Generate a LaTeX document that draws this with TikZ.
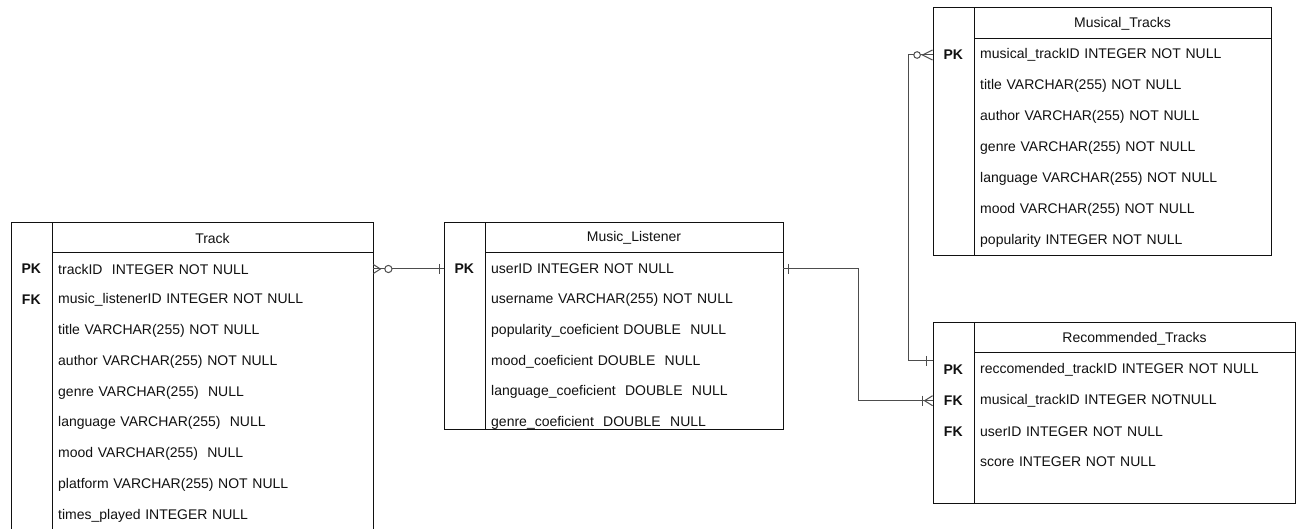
\documentclass[tikz,border=0pt]{standalone}
\usepackage{fontspec}
\setmainfont{Liberation Sans}
\usetikzlibrary{positioning, calc}

\definecolor{inkc}{HTML}{111111}
\definecolor{relc}{HTML}{4D4D4D}

\tikzset{
  tbl/.style={draw=inkc, line width=1pt},
  rel/.style={draw=relc, line width=1pt},
  title/.style={font=\fontsize{14}{16}\selectfont, text=inkc, inner sep=0pt},
  keycell/.style={font=\fontsize{14}{16}\selectfont\bfseries, text=inkc, anchor=east,
    minimum width=41pt, minimum height=18pt, inner sep=0pt},
  fieldcell/.style={font=\fontsize{14}{16}\selectfont, text=inkc, anchor=west,
    inner xsep=6pt, inner ysep=0pt, minimum height=18pt, text width=#1, align=left}
}

\begin{document}
\begin{tikzpicture}[x=1pt, y=-1pt]
  \path[use as bounding box, fill=white] (0,0) rectangle (1302,529);

  % Track
  \draw[tbl] (11,223) rectangle (373,540);
  \draw[tbl] (52,223) -- (52,540);
  \draw[tbl] (52,253) -- (373,253);
  \node[title] (track) at (212.5,238) {Track};
  \foreach \i/\k/\f in {1/PK/{trackID\ \ INTEGER NOT NULL},
      2/FK/{music\_listenerID INTEGER NOT NULL},
      3//{title VARCHAR(255) NOT NULL},
      4//{author VARCHAR(255) NOT NULL},
      5//{genre VARCHAR(255)\ \ NULL},
      6//{language VARCHAR(255)\ \ NULL},
      7//{mood VARCHAR(255)\ \ NULL},
      8//{platform VARCHAR(255) NOT NULL},
      9//{times\_played INTEGER NULL}}{
    \node[keycell] (tk\i) at (52,{269+30.875*(\i-1)}) {\k};
    \node[fieldcell=309pt] (tf\i) at (52,{269+30.875*(\i-1)}) {\f};
  }

  % Music_Listener
  \draw[tbl] (444,223) rectangle (783,429);
  \draw[tbl] (485,223) -- (485,429);
  \draw[tbl] (485,253) -- (783,253);
  \node[title] (listener) at (634,238) {Music\_Listener};
  \foreach \i/\k/\f in {1/PK/{userID INTEGER NOT NULL},
      2//{username VARCHAR(255) NOT NULL},
      3//{popularity\_coeficient DOUBLE\ \ NULL},
      4//{mood\_coeficient DOUBLE\ \ NULL},
      5//{language\_coeficient\ \ DOUBLE\ \ NULL},
      6//{genre\_coeficient\ \ DOUBLE\ \ NULL}}{
    \node[keycell] (lk\i) at (485,{269+30.8*(\i-1)}) {\k};
    \node[fieldcell=286pt] (lf\i) at (485,{269+30.8*(\i-1)}) {\f};
  }

  % Musical_Tracks
  \draw[tbl] (933,8) rectangle (1271,256);
  \draw[tbl] (974,8) -- (974,256);
  \draw[tbl] (974,39) -- (1271,39);
  \node[title] (musical) at (1122.5,24) {Musical\_Tracks};
  \foreach \i/\k/\f in {1/PK/{musical\_trackID INTEGER NOT NULL},
      2//{title VARCHAR(255) NOT NULL},
      3//{author VARCHAR(255) NOT NULL},
      4//{genre VARCHAR(255) NOT NULL},
      5//{language VARCHAR(255) NOT NULL},
      6//{mood VARCHAR(255) NOT NULL},
      7//{popularity INTEGER NOT NULL}}{
    \node[keycell] (mk\i) at (974,{55+31*(\i-1)}) {\k};
    \node[fieldcell=285pt] (mf\i) at (974,{55+31*(\i-1)}) {\f};
  }

  % Recommended_Tracks
  \draw[tbl] (933,323) rectangle (1295,503);
  \draw[tbl] (974,323) -- (974,503);
  \draw[tbl] (974,353) -- (1295,353);
  \node[title] (recommended) at (1134.5,339) {Recommended\_Tracks};
  \foreach \i/\k/\f in {1/PK/{reccomended\_trackID INTEGER NOT NULL},
      2/FK/{musical\_trackID INTEGER NOTNULL},
      3/FK/{userID INTEGER NOT NULL},
      4//{score INTEGER NOT NULL}}{
    \node[keycell] (rk\i) at (974,{370+30.7*(\i-1)}) {\k};
    \node[fieldcell=309pt] (rf\i) at (974,{370+30.7*(\i-1)}) {\f};
  }

  % Track >o----| Music_Listener
  \draw[rel] (tf1.east) -- (lk1.west);
  \draw[rel] ($(tf1.east)+(0,-4.5)$) -- ($(tf1.east)+(7,0)$) -- ($(tf1.east)+(0,4.5)$);
  \draw[rel, fill=white] ($(tf1.east)+(15,0)$) circle[radius=3.6];
  \draw[rel] ($(lk1.west)+(-4,-5)$) -- ++(0,10);

  % Music_Listener |----|< Recommended_Tracks
  \draw[rel] (lf1.east) -- ++(75,0) |- (rk2.west);
  \draw[rel] ($(lf1.east)+(5,-5)$) -- ++(0,10);
  \draw[rel] ($(rk2.west)+(0,-5)$) -- ($(rk2.west)+(-8,0)$) -- ($(rk2.west)+(0,5)$);
  \draw[rel] ($(rk2.west)+(-10,-5)$) -- ++(0,10);

  % Musical_Tracks >o----| Recommended_Tracks
  \draw[rel] (mk1.west) -- ++(-24,0) |- ($(rk1.west)+(0,-9)$);
  \draw[rel] ($(mk1.west)+(0,-5)$) -- ($(mk1.west)+(-10,0)$) -- ($(mk1.west)+(0,5)$);
  \draw[rel, fill=white] ($(mk1.west)+(-15.5,0)$) circle[radius=3.3];
  \draw[rel] ($(rk1.west)+(-6,-14)$) -- ++(0,10);
\end{tikzpicture}
\end{document}
